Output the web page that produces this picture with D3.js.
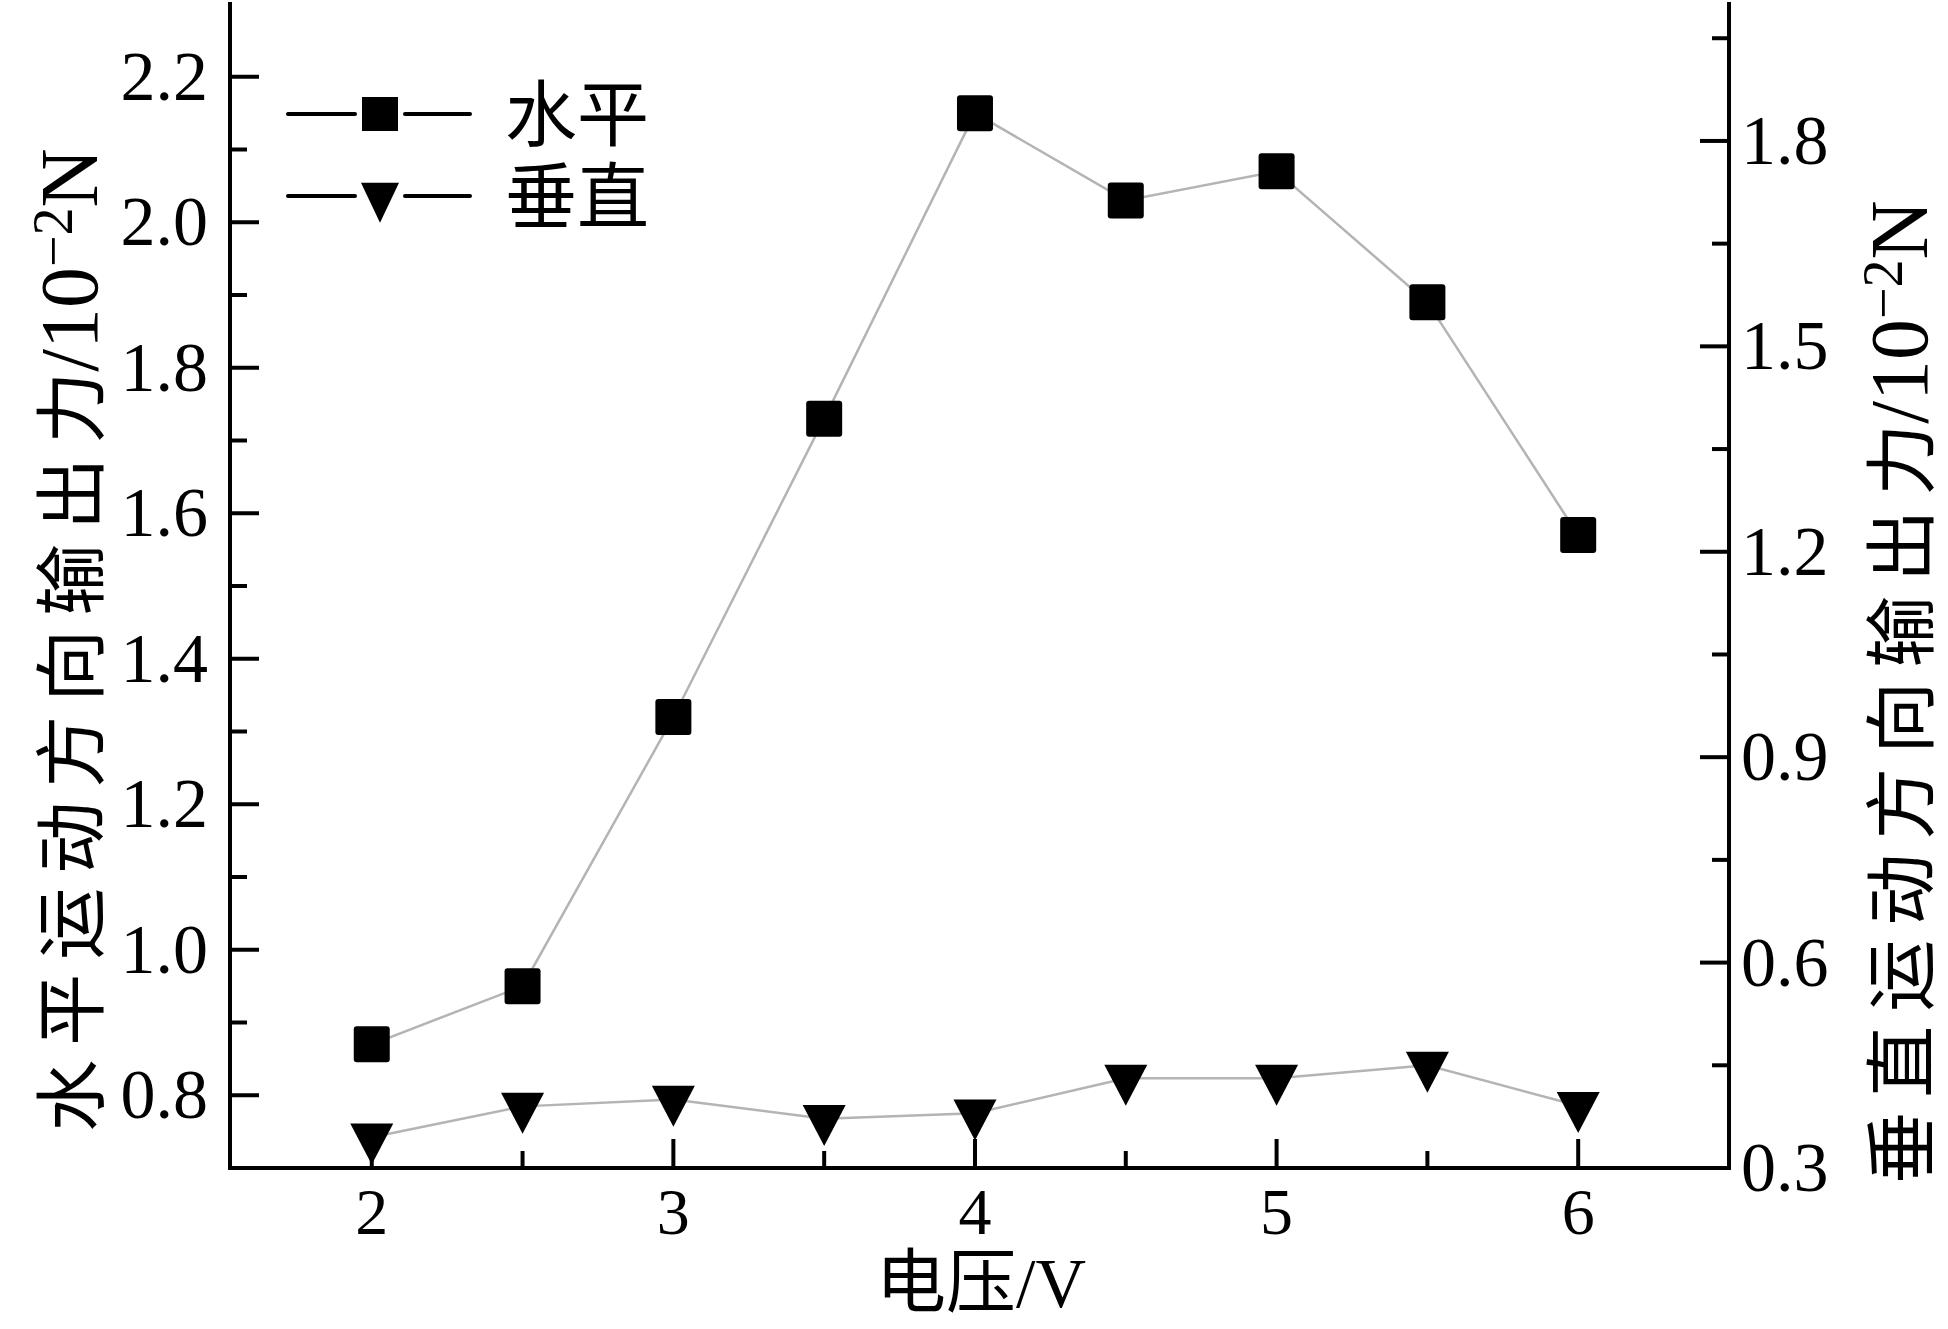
<!DOCTYPE html>
<html>
<head>
<meta charset="utf-8">
<script src="https://cdn.jsdelivr.net/npm/d3@7"></script>
<style>
  body { margin: 0; background: #fff; }
  text { font-family: "Liberation Serif", "Noto Sans CJK SC", serif; fill: #000; }
</style>
</head>
<body>
<div id="chart"></div>
<script>
var voltage = [2, 2.5, 3, 3.5, 4, 4.5, 5, 5.5, 6],
    horizontal = [0.87, 0.95, 1.32, 1.73, 2.15, 2.03, 2.07, 1.89, 1.57],
    vertical = [0.345, 0.39, 0.40, 0.372, 0.38, 0.431, 0.431, 0.45, 0.391],
    xMajor = [2, 3, 4, 5, 6],
    xMinor = [2.5, 3.5, 4.5, 5.5],
    leftMajor = [0.8, 1.0, 1.2, 1.4, 1.6, 1.8, 2.0, 2.2],
    leftMinor = [0.9, 1.1, 1.3, 1.5, 1.7, 1.9, 2.1],
    rightMajor = [0.3, 0.6, 0.9, 1.2, 1.5, 1.8],
    rightMinor = [0.45, 0.75, 1.05, 1.35, 1.65, 1.95],
    seriesNames = ["水平", "垂直"];

var width = 1948,
    height = 1329,
    svg, x, yLeft, yRight;

function setup() {
    svg = d3
        .select("#chart")
        .append("svg")
        .attr("width", width)
        .attr("height", height);

    x = d3.scaleLinear().domain([1.53, 6.5]).range([230, 1729]);
    yLeft = d3.scaleLinear().domain([0.7, 2.3]).range([1168, 4]);
    yRight = d3.scaleLinear().domain([0.3, 2.0]).range([1168, 4]);

    drawSeries();
    drawAxes();
    drawLegend();
}

function triangle(cx, cy, w, h) {
    // downward triangle, centroid on the data point
    return "M" + (cx - w / 2) + "," + (cy - h / 3) +
        "L" + (cx + w / 2) + "," + (cy - h / 3) +
        "L" + cx + "," + (cy + 2 * h / 3) + "Z";
}

function drawSeries() {
    var line = d3.line();

    svg.append("path")
        .attr("d", line(voltage.map((v, i) => [x(v), yLeft(horizontal[i])])))
        .attr("fill", "none")
        .attr("stroke", "#b4b4b4")
        .attr("stroke-width", 2.5);

    svg.append("path")
        .attr("d", line(voltage.map((v, i) => [x(v), yRight(vertical[i])])))
        .attr("fill", "none")
        .attr("stroke", "#b4b4b4")
        .attr("stroke-width", 2.5);

    svg.selectAll("rect.sq")
        .data(voltage)
        .enter()
        .append("rect")
        .attr("class", "sq")
        .attr("x", (d) => x(d) - 18)
        .attr("y", (d, i) => yLeft(horizontal[i]) - 18)
        .attr("width", 36)
        .attr("height", 36)
        .attr("rx", 3)
        .attr("fill", "#000");

    svg.selectAll("path.tri")
        .data(voltage)
        .enter()
        .append("path")
        .attr("class", "tri")
        .attr("d", (d, i) => triangle(x(d), yRight(vertical[i]), 43, 41))
        .attr("fill", "#000");
}

function drawAxes() {
    var bottom = yLeft.range()[0],
        top = yLeft.range()[1],
        left = x.range()[0],
        right = x.range()[1];

    var g = svg.append("g")
        .attr("stroke", "#000")
        .attr("stroke-width", 4)
        .attr("stroke-linecap", "square");

    g.append("line").attr("x1", left).attr("x2", right).attr("y1", bottom).attr("y2", bottom);
    g.append("line").attr("x1", left).attr("x2", left).attr("y1", top).attr("y2", bottom);
    g.append("line").attr("x1", right).attr("x2", right).attr("y1", top).attr("y2", bottom);

    // x ticks (inward)
    g.selectAll("line.xmaj").data(xMajor).enter().append("line")
        .attr("x1", (d) => x(d)).attr("x2", (d) => x(d))
        .attr("y1", bottom).attr("y2", bottom - 27);
    g.selectAll("line.xmin").data(xMinor).enter().append("line")
        .attr("x1", (d) => x(d)).attr("x2", (d) => x(d))
        .attr("y1", bottom).attr("y2", bottom - 15);

    // left ticks
    g.selectAll("line.lmaj").data(leftMajor).enter().append("line")
        .attr("x1", left).attr("x2", left + 27)
        .attr("y1", (d) => yLeft(d)).attr("y2", (d) => yLeft(d));
    g.selectAll("line.lmin").data(leftMinor).enter().append("line")
        .attr("x1", left).attr("x2", left + 15)
        .attr("y1", (d) => yLeft(d)).attr("y2", (d) => yLeft(d));

    // right ticks
    g.selectAll("line.rmaj").data(rightMajor).enter().append("line")
        .attr("x1", right).attr("x2", right - 27)
        .attr("y1", (d) => yRight(d)).attr("y2", (d) => yRight(d));
    g.selectAll("line.rmin").data(rightMinor).enter().append("line")
        .attr("x1", right).attr("x2", right - 15)
        .attr("y1", (d) => yRight(d)).attr("y2", (d) => yRight(d));

    svg.selectAll("text.xl").data(xMajor).enter().append("text")
        .attr("x", (d) => x(d))
        .attr("y", bottom + 66)
        .attr("text-anchor", "middle")
        .style("font-size", "66px")
        .text((d) => d);

    svg.selectAll("text.ll").data(leftMajor).enter().append("text")
        .attr("x", left - 22)
        .attr("y", (d) => yLeft(d))
        .attr("dy", "0.33em")
        .attr("text-anchor", "end")
        .style("font-size", "70px")
        .text((d) => d3.format(".1f")(d));

    svg.selectAll("text.rl").data(rightMajor).enter().append("text")
        .attr("x", right + 12)
        .attr("y", (d) => yRight(d))
        .attr("dy", "0.33em")
        .attr("text-anchor", "start")
        .style("font-size", "70px")
        .text((d) => d3.format(".1f")(d));

    svg.append("text")
        .attr("x", 981)
        .attr("y", 1307)
        .attr("text-anchor", "middle")
        .style("font-size", "70px")
        .text("电压/V");

    axisTitle(72, 640, "水平运动方向输出力");
    axisTitle(1902, 692, "垂直运动方向输出力");
}

function axisTitle(cx, cy, label) {
    var t = svg.append("text")
        .attr("transform", "translate(" + cx + "," + cy + ") rotate(-90)")
        .attr("text-anchor", "middle")
        .attr("dy", "0.35em")
        .style("font-size", "72px");
    t.append("tspan").style("letter-spacing", "14px").text(label.slice(0, -1));
    t.append("tspan").text(label.slice(-1));
    t.append("tspan").style("font-size", "82px").text("/10");
    t.append("tspan").attr("dy", "-0.45em").style("font-size", "56px").text("−2");
    t.append("tspan").attr("dy", "0.3em").style("font-size", "82px").text("N");
}

function drawLegend() {
    var rows = [{ y: 114, type: "sq" }, { y: 196, type: "tri" }];

    rows.forEach(function (r, i) {
        var g = svg.append("g");
        g.append("line").attr("x1", 288).attr("x2", 355).attr("y1", r.y).attr("y2", r.y)
            .attr("stroke", "#000").attr("stroke-width", 4).attr("stroke-linecap", "round");
        g.append("line").attr("x1", 405).attr("x2", 470).attr("y1", r.y).attr("y2", r.y)
            .attr("stroke", "#000").attr("stroke-width", 4).attr("stroke-linecap", "round");
        if (r.type === "sq") {
            g.append("rect").attr("x", 362).attr("y", r.y - 17).attr("width", 36).attr("height", 34);
        } else {
            g.append("path").attr("d", triangle(380, r.y, 38, 40));
        }
        g.append("text")
            .attr("x", 505)
            .attr("y", r.y)
            .attr("dy", "0.36em")
            .style("font-size", "72px")
            .text(seriesNames[i]);
    });
}

setup();
</script>
</body>
</html>
